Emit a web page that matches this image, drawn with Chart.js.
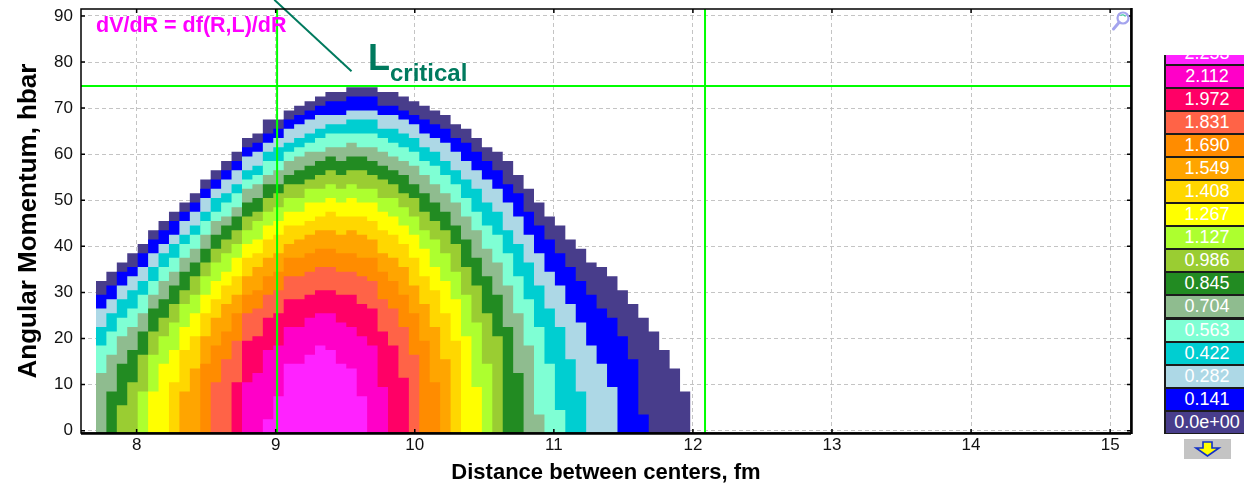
<!DOCTYPE html>
<html lang="en">
<head>
<meta charset="utf-8">
<title>dV/dR map</title>
<script src="https://cdn.jsdelivr.net/npm/chart.js@4.4.1/dist/chart.umd.min.js"></script>
<style>
  html, body { margin: 0; padding: 0; background: #fff; }
  #wrap { position: relative; width: 1244px; height: 486px; overflow: hidden;
          font-family: "Liberation Sans", Arial, sans-serif; }
  #plot { position: absolute; left: 0; top: 0; }
  .note { position: absolute; white-space: nowrap; font-weight: bold; line-height: 1; }
  #formula { left: 96px; top: 15px; font-size: 21.5px; color: #ff00ff; }
  #lcrit { left: 368px; top: 40px; font-size: 36px; color: #007a5e; }
  #lcrit sub { font-size: 24px; vertical-align: -11px; line-height: 1; }
  #cbar { position: absolute; left: 1164px; top: 55px; width: 80px; height: 379px;
          overflow: hidden; background: #1b1b1b; }
  #cbar div { position: absolute; left: 2px; width: 82px; height: 21px; line-height: 21px;
              font-size: 18px; color: #fff; text-align: center; }
  #btn { position: absolute; left: 1184px; top: 439px; }
  #lens { position: absolute; left: 1110px; top: 11px; }
</style>
</head>
<body>
<div id="wrap">
  <canvas id="plot" width="1244" height="486"></canvas>
  <div class="note" id="formula">dV/dR = df(R,L)/dR</div>
  <div class="note" id="lcrit">L<sub>critical</sub></div>
  <div id="cbar"></div>
  <svg id="btn" width="47" height="20" viewBox="0 0 47 20">
    <rect x="0" y="0" width="47" height="20" fill="#c4c4c4"/>
    <polygon points="19,3 28,3 28,9 35,9 23.5,17 12,9 19,9" fill="#ffff00" stroke="#1030c8" stroke-width="1.6"/>
  </svg>
  <svg id="lens" width="22" height="22" viewBox="0 0 22 22">
    <circle cx="13" cy="7" r="5.5" fill="none" stroke="#a4a4ee" stroke-width="2.2"/>
    <path d="M10.5 4.5 A3.5 3.5 0 0 1 15.5 5.5" fill="none" stroke="#3cc8a0" stroke-width="1.4"/>
    <line x1="9" y1="11.5" x2="3.5" y2="18" stroke="#a4a4ee" stroke-width="3" stroke-linecap="round"/>
  </svg>
</div>
<script>
const _ = null;

// column centres of the R grid (fm)
const rColumns = [7.745, 7.820, 7.895, 7.970, 8.045, 8.120, 8.195, 8.270, 8.345, 8.420,
                  8.495, 8.570, 8.645, 8.720, 8.795, 8.870, 8.945, 9.020, 9.095, 9.170,
                  9.245, 9.320, 9.395, 9.470, 9.545, 9.620, 9.695, 9.770, 9.845, 9.920,
                  9.995, 10.070, 10.145, 10.220, 10.295, 10.370, 10.445, 10.520, 10.595, 10.670,
                  10.745, 10.820, 10.895, 10.970, 11.045, 11.120, 11.195, 11.270, 11.345, 11.420,
                  11.495, 11.570, 11.645, 11.720, 11.795, 11.870, 11.945];

// highest L (hbar) in each column where dV/dR is still above the level
const maxL_0000 = [32,34,36,38,40,43,45,47,49,51,54,56,58,60,63,64,67,67,69,70,71,72,73,73,74,74,74,73,73,72,71,70,69,68,66,65,63,61,60,58,55,52,49,46,44,41,39,36,35,33,30,27,24,21,17,13,8];
const maxL_0141 = [29,31,34,35,38,41,43,45,47,49,52,54,56,58,61,62,64,65,67,68,69,70,71,71,72,72,72,70,70,69,68,67,66,65,63,62,60,58,56,53,51,47,44,41,38,35,32,29,26,24,20,15,3,_,_,_,_];
const maxL_0282 = [26,28,31,33,35,38,40,42,45,47,50,52,54,56,59,60,62,63,65,66,67,68,68,68,69,69,69,68,68,67,66,64,63,62,60,58,56,54,52,49,46,42,38,34,31,27,23,18,14,9,_,_,_,_,_,_,_];
const maxL_0422 = [22,25,28,30,32,35,38,40,42,44,47,50,51,53,56,57,60,61,62,63,64,65,66,66,67,67,67,65,65,64,63,61,60,58,56,54,52,49,47,43,40,36,31,26,22,15,8,_,_,_,_,_,_,_,_,_,_];
const maxL_0563 = [18,21,24,26,29,32,35,37,40,42,45,47,49,51,54,55,58,58,60,61,62,63,64,64,64,64,64,63,62,61,60,58,57,55,53,50,47,44,42,38,33,28,22,14,4,_,_,_,_,_,_,_,_,_,_,_,_];
const maxL_0704 = [12,16,20,22,25,29,32,34,37,39,42,45,46,48,52,53,55,56,58,59,60,60,61,61,62,61,61,60,59,58,57,55,53,51,49,46,43,39,36,31,25,18,3,_,_,_,_,_,_,_,_,_,_,_,_,_,_];
const maxL_0845 = [_,8,14,17,21,26,28,31,34,36,39,42,44,46,49,50,53,53,55,56,57,58,59,58,59,59,58,57,56,55,53,51,49,47,44,41,37,33,29,22,12,_,_,_,_,_,_,_,_,_,_,_,_,_,_,_,_];
const maxL_0986 = [_,_,5,10,16,21,24,27,30,33,36,39,41,43,46,47,50,51,53,53,54,55,56,55,56,56,55,54,53,51,50,47,45,43,40,35,31,25,20,_,_,_,_,_,_,_,_,_,_,_,_,_,_,_,_,_,_];
const maxL_1127 = [_,_,_,_,8,16,20,23,27,29,33,36,38,40,43,45,47,48,50,50,52,52,53,52,53,52,52,50,50,48,46,43,41,38,34,29,23,14,_,_,_,_,_,_,_,_,_,_,_,_,_,_,_,_,_,_,_];
const maxL_1267 = [_,_,_,_,_,8,14,17,22,25,29,32,34,37,40,41,44,45,47,47,49,49,50,49,50,49,49,47,46,44,42,39,35,32,28,20,9,_,_,_,_,_,_,_,_,_,_,_,_,_,_,_,_,_,_,_,_];
const maxL_1408 = [_,_,_,_,_,_,_,10,17,20,25,28,31,33,37,38,41,42,44,44,45,46,47,46,46,46,45,43,42,40,37,33,30,25,19,_,_,_,_,_,_,_,_,_,_,_,_,_,_,_,_,_,_,_,_,_,_];
const maxL_1549 = [_,_,_,_,_,_,_,_,8,13,20,24,27,29,33,35,37,38,40,41,42,43,43,42,43,42,41,38,37,35,31,27,22,15,_,_,_,_,_,_,_,_,_,_,_,_,_,_,_,_,_,_,_,_,_,_,_];
const maxL_1690 = [_,_,_,_,_,_,_,_,_,_,14,18,21,25,29,30,33,34,37,37,38,39,39,38,38,37,37,34,32,29,25,19,10,_,_,_,_,_,_,_,_,_,_,_,_,_,_,_,_,_,_,_,_,_,_,_,_];
const maxL_1831 = [_,_,_,_,_,_,_,_,_,_,_,10,15,19,25,26,29,30,33,33,34,35,35,34,34,33,32,28,26,22,16,_,_,_,_,_,_,_,_,_,_,_,_,_,_,_,_,_,_,_,_,_,_,_,_,_,_];
const maxL_1972 = [_,_,_,_,_,_,_,_,_,_,_,_,_,10,19,20,24,25,28,28,29,30,30,29,29,27,26,21,18,11,_,_,_,_,_,_,_,_,_,_,_,_,_,_,_,_,_,_,_,_,_,_,_,_,_,_,_];
const maxL_2112 = [_,_,_,_,_,_,_,_,_,_,_,_,_,_,10,12,17,18,22,22,24,25,25,23,22,20,18,9,_,_,_,_,_,_,_,_,_,_,_,_,_,_,_,_,_,_,_,_,_,_,_,_,_,_,_,_,_];
const maxL_2253 = [_,_,_,_,_,_,_,_,_,_,_,_,_,_,_,_,2,7,14,14,16,18,17,14,13,7,_,_,_,_,_,_,_,_,_,_,_,_,_,_,_,_,_,_,_,_,_,_,_,_,_,_,_,_,_,_,_];

const levelMaxL = [maxL_0000, maxL_0141, maxL_0282, maxL_0422, maxL_0563, maxL_0704, maxL_0845, maxL_0986,
                   maxL_1127, maxL_1267, maxL_1408, maxL_1549, maxL_1690, maxL_1831, maxL_1972, maxL_2112, maxL_2253];
const levelLabels = ['0.0e+00', '0.141', '0.282', '0.422', '0.563', '0.704', '0.845', '0.986', '1.127',
                     '1.267', '1.408', '1.549', '1.690', '1.831', '1.972', '2.112', '2.253'];
const levelColors = ['#483d8b', '#0000ff', '#add8e6', '#00ced1', '#7fffd4', '#8fbc8f', '#228b22', '#9acd32', '#adff2f',
                     '#ffff00', '#ffd700', '#ffa500', '#ff8c00', '#ff6347', '#ff0066', '#ff00c8', '#ff22ff'];

const xTicks = [8, 9, 10, 11, 12, 13, 14, 15];
const yTicks = [0, 10, 20, 30, 40, 50, 60, 70, 80, 90];

// guide lines and the pointer of the L_critical label
const criticalR = [9.01, 12.087];
const criticalL = [74.8];
const pointerR = [8.99, 9.545];
const pointerL = [93.5, 78.0];

const Y_MIN = -0.5;
const Y_MAX = 91.5;

Chart.defaults.font.family = '"Liberation Sans", Arial, sans-serif';
Chart.defaults.color = '#000';

const halfStep = (rColumns[1] - rColumns[0]) / 2;

// one filled step outline per colour level, each cell spans L-0.5 .. L+0.5
function bandPoints(maxL) {
    let pts = maxL.map((n, i) => ({ x: rColumns[i] - halfStep, y: n === null ? Y_MIN : n + 0.5 }));
    pts.push({ x: rColumns[rColumns.length - 1] + halfStep, y: Y_MIN });
    return pts;
}

const datasets = levelMaxL.map((maxL, k) => ({
    label: levelLabels[k],
    data: bandPoints(maxL),
    stepped: 'before',
    fill: 'start',
    backgroundColor: levelColors[k],
    borderColor: 'rgba(0,0,0,0)',
    borderWidth: 0,
    pointRadius: 0,
    order: levelMaxL.length - k
}));

const overlay = {
    id: 'overlay',
    afterDraw(chart) {
        const { ctx, chartArea: a, scales: { x, y } } = chart;
        ctx.save();

        ctx.strokeStyle = '#00ff00';
        ctx.lineWidth = 2;
        ctx.beginPath();
        criticalR.forEach(r => {
            const px = x.getPixelForValue(r);
            ctx.moveTo(px, a.top);
            ctx.lineTo(px, a.bottom);
        });
        criticalL.forEach(l => {
            const py = y.getPixelForValue(l);
            ctx.moveTo(a.left, py);
            ctx.lineTo(a.right, py);
        });
        ctx.stroke();

        ctx.strokeStyle = '#007a5e';
        ctx.lineWidth = 2;
        ctx.beginPath();
        ctx.moveTo(x.getPixelForValue(pointerR[0]), y.getPixelForValue(pointerL[0]));
        ctx.lineTo(x.getPixelForValue(pointerR[1]), y.getPixelForValue(pointerL[1]));
        ctx.stroke();

        // frame + inner tick marks
        ctx.strokeStyle = '#000';
        ctx.lineWidth = 1.5;
        ctx.strokeRect(a.left, a.top, a.right - a.left, a.bottom - a.top);
        ctx.lineWidth = 2.5;
        ctx.beginPath();
        ctx.moveTo(a.right + 0.5, a.top - 1);
        ctx.lineTo(a.right + 0.5, a.bottom + 1);
        ctx.moveTo(a.left, a.bottom + 0.5);
        ctx.lineTo(a.right, a.bottom + 0.5);
        ctx.stroke();

        ctx.lineWidth = 1.5;
        ctx.beginPath();
        xTicks.forEach(v => {
            const px = x.getPixelForValue(v);
            ctx.moveTo(px, a.top); ctx.lineTo(px, a.top + 4);
            ctx.moveTo(px, a.bottom); ctx.lineTo(px, a.bottom - 4);
        });
        yTicks.forEach(v => {
            const py = y.getPixelForValue(v);
            ctx.moveTo(a.left, py); ctx.lineTo(a.left + 4, py);
            ctx.moveTo(a.right, py); ctx.lineTo(a.right - 4, py);
        });
        ctx.stroke();
        ctx.restore();
    }
};

new Chart(document.getElementById('plot').getContext('2d'), {
    type: 'line',
    data: { datasets: datasets },
    options: {
        responsive: false,
        animation: false,
        devicePixelRatio: 1,
        events: [],
        layout: { padding: { top: 9, right: 113, left: 0, bottom: 0 } },
        plugins: { legend: { display: false }, tooltip: { enabled: false } },
        scales: {
            x: {
                type: 'linear',
                min: 7.6,
                max: 15.15,
                afterBuildTicks: axis => { axis.ticks = xTicks.map(v => ({ value: v })); },
                afterFit: scale => {
                    scale.height = 53;
                    scale.paddingLeft = 0;
                    scale.paddingRight = 0;
                },
                grid: { color: '#c4c4c4', lineWidth: 1, drawTicks: false },
                border: { display: false, dash: [4, 3] },
                ticks: { padding: 2, autoSkip: false, maxRotation: 0, font: { size: 17 }, color: '#111' },
                title: {
                    display: true, text: 'Distance between centers, fm',
                    font: { size: 22, weight: 'bold' }, padding: { top: 0, bottom: 0 }
                }
            },
            y: {
                type: 'linear',
                min: Y_MIN,
                max: Y_MAX,
                afterBuildTicks: axis => { axis.ticks = yTicks.map(v => ({ value: v })); },
                afterFit: scale => {
                    scale.width = 81;
                    scale.paddingTop = 0;
                    scale.paddingBottom = 0;
                },
                grid: { color: '#c4c4c4', lineWidth: 1, drawTicks: false },
                border: { display: false, dash: [4, 3] },
                ticks: { padding: 8, font: { size: 17 }, color: '#111' },
                title: {
                    display: true, text: 'Angular Momentum, hbar',
                    font: { size: 26, weight: 'bold' }, padding: { top: 13, bottom: 0 }
                }
            }
        }
    },
    plugins: [overlay]
});

// colour bar, one box per level
const cbar = document.getElementById('cbar');
levelLabels.forEach((txt, k) => {
    const box = document.createElement('div');
    box.style.top = (356.7 - 23.05 * k) + 'px';
    box.style.background = levelColors[k];
    box.textContent = txt;
    cbar.appendChild(box);
});
</script>
</body>
</html>
